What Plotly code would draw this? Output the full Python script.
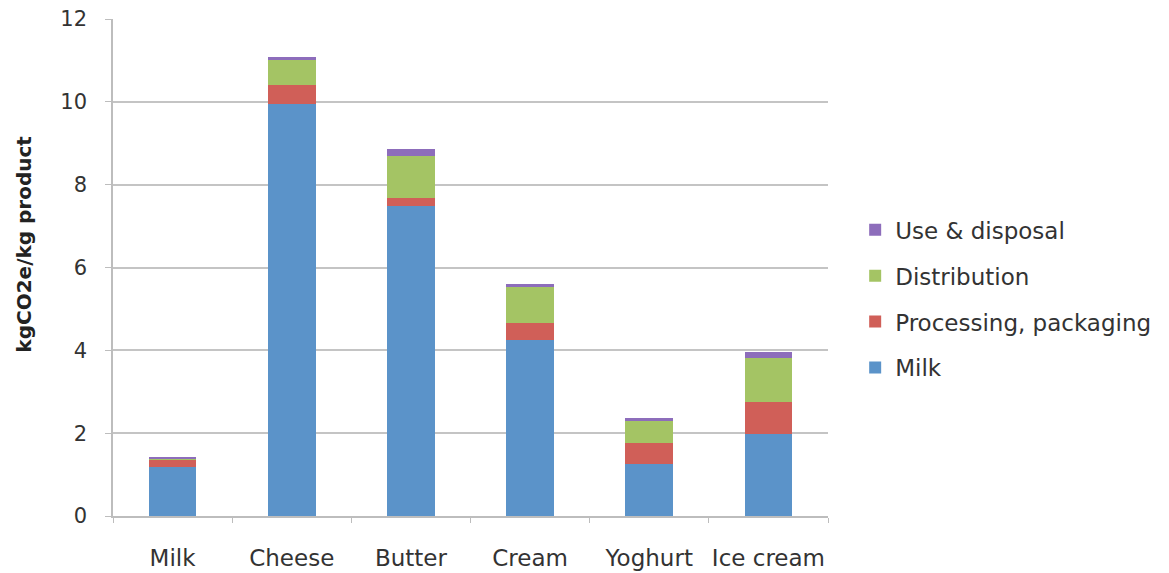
import plotly.graph_objects as go

# Carbon footprint of dairy products by life-cycle stage (kgCO2e per kg product)
products = ["Milk", "Cheese", "Butter", "Cream", "Yoghurt", "Ice cream"]
milk_stage = [1.18, 9.95, 7.49, 4.25, 1.26, 1.98]
processing_packaging = [0.17, 0.46, 0.19, 0.41, 0.50, 0.77]
distribution = [0.05, 0.60, 1.02, 0.87, 0.53, 1.07]
use_disposal = [0.02, 0.08, 0.17, 0.07, 0.08, 0.14]

y_ticks = [0, 2, 4, 6, 8, 10, 12]
y_title = "kgCO2e/kg product"

# stacked bottom-to-top; legend lists them top-to-bottom
series = [
    ("Milk", milk_stage, "#5B93C9", 4),
    ("Processing, packaging", processing_packaging, "#D05F58", 3),
    ("Distribution", distribution, "#A4C464", 2),
    ("Use & disposal", use_disposal, "#8D6DBB", 1),
]

fig = go.Figure()
for name, vals, color, rank in series:
    fig.add_trace(go.Bar(
        x=products, y=vals, name=name, legendgroup=name, legendrank=rank,
        marker=dict(color=color, line=dict(width=0)),
    ))

font_family = "DejaVu Sans, Verdana, sans-serif"
text_color = "#333333"
fig.update_layout(
    barmode="stack",
    bargap=0.6,
    width=1169, height=573,
    margin=dict(l=113, r=341, t=19, b=57),
    plot_bgcolor="white", paper_bgcolor="white",
    font=dict(family=font_family, size=22, color=text_color),
    showlegend=True,
    legend=dict(
        x=1.038, y=0.437, xanchor="left", yanchor="middle",
        traceorder="grouped", tracegroupgap=13,
        font=dict(size=23, color=text_color),
        itemwidth=30,
    ),
)
fig.update_xaxes(
    type="category",
    automargin=False,
    showline=True, linecolor="#BDBDBD", linewidth=1.5,
    ticks="outside", tickson="boundaries", ticklen=5, tickcolor="#BDBDBD",
    ticklabelstandoff=21, tickangle=0,
    showgrid=False,
    tickfont=dict(size=23, color=text_color),
)
fig.update_yaxes(
    range=[0, 12], tickvals=y_ticks,
    automargin=False,
    showline=True, linecolor="#BDBDBD", linewidth=1.5,
    ticks="outside", ticklen=6, tickcolor="#BDBDBD",
    ticklabelstandoff=14,
    showgrid=True, gridcolor="#C4C4C4", gridwidth=1.5,
    zeroline=False,
    tickfont=dict(size=21, color=text_color),
)
fig.add_annotation(
    text="<b>" + y_title + "</b>",
    xref="paper", yref="paper", x=-0.1245, y=0.548,
    xanchor="center", yanchor="middle", textangle=-90, showarrow=False,
    font=dict(size=20, color="#222222"),
)

fig.write_html("out.html")
